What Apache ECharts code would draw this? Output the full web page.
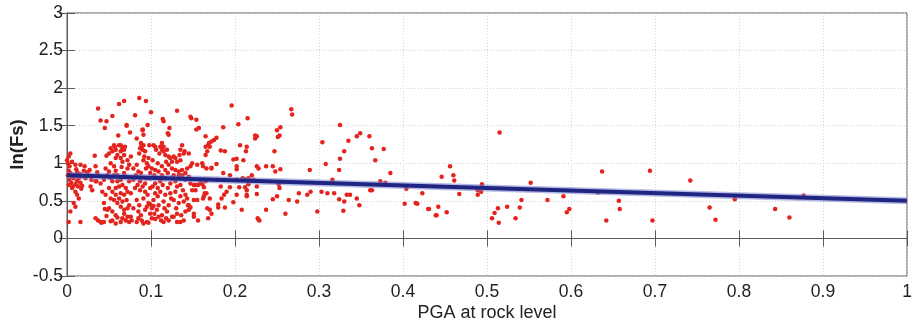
<!DOCTYPE html>
<html>
<head>
<meta charset="utf-8">
<script src="https://cdn.jsdelivr.net/npm/echarts@6/dist/echarts.min.js"></script>
<style>
html,body{margin:0;padding:0;background:#fff;}
#chart{width:913px;height:326px;}
</style>
</head>
<body>
<div id="chart"></div>
<script>
// Axis ticks
const xTicks = [0, 0.1, 0.2, 0.3, 0.4, 0.5, 0.6, 0.7, 0.8, 0.9, 1];
const yTicks = [-0.5, 0, 0.5, 1, 1.5, 2, 2.5, 3];
const xAxisTitle = 'PGA at rock level';
const yAxisTitle = 'ln(Fs)';

// Fitted regression line endpoints [PGA, ln(Fs)]
const fitLine = [[0, 0.84], [1, 0.50]];

// Observed points [PGA, ln(Fs)]
const pointsLowPGA = [
[0.068,1.83],[0.062,1.79],[0.037,1.73],[0.054,1.63],[0.040,1.57],[0.047,1.56],[0.045,1.47],[0.075,1.41],[0.061,1.37],[0.071,1.51],
[0.004,1.13],[0.002,1.09],[0.000,1.04],[0.001,1.00],[0.003,0.96],[0.006,1.02],[0.002,0.90],[0.004,0.87],[0.001,0.84],[0.006,0.82],
[0.003,0.78],[0.008,0.80],[0.005,0.74],[0.002,0.71],[0.007,0.69],[0.010,0.72],[0.012,0.76],[0.009,0.84],[0.012,0.88],[0.014,0.80],
[0.016,0.74],[0.018,0.70],[0.015,0.86],[0.019,0.83],[0.011,0.92],[0.006,0.67],[0.010,0.62],[0.012,0.58],[0.014,0.53],[0.008,0.47],
[0.010,0.42],[0.004,0.36],[0.002,0.22],[0.016,0.22],[0.010,0.98],[0.016,0.98],[0.021,0.96],[0.013,0.69],[0.017,0.66],[0.020,0.90],
[0.024,0.88],[0.027,0.91],[0.026,0.84],[0.022,0.80],[0.029,0.78],[0.034,0.76],[0.040,0.73],[0.030,0.64],[0.042,0.62],[0.033,1.10],
[0.047,1.10],[0.034,0.96],[0.036,0.88],[0.038,0.83],[0.028,0.69],[0.035,0.76],[0.044,0.47],[0.045,0.39],
[0.052,1.20],[0.057,1.22],[0.062,1.24],[0.066,1.20],[0.069,1.22],[0.064,1.16],[0.068,1.11],[0.060,1.11],[0.054,1.16],[0.058,1.07],
[0.064,1.07],[0.076,1.09],[0.074,0.98],[0.052,1.00],[0.056,0.96],[0.046,0.93],[0.050,0.89],[0.058,0.90],[0.060,0.84],[0.068,0.87],
[0.072,0.93],[0.065,0.95],[0.052,0.80],[0.054,0.76],[0.060,0.76],[0.064,0.78],[0.070,0.82],[0.074,0.76],[0.048,0.84],[0.044,0.78],
[0.054,0.62],[0.058,0.58],[0.062,0.53],[0.056,0.51],[0.060,0.47],[0.066,0.49],[0.068,0.58],[0.072,0.62],[0.076,0.60],[0.062,0.69],
[0.050,0.40],[0.054,0.36],[0.048,0.38],[0.064,0.42],[0.068,0.38],[0.072,0.40],[0.074,0.44],[0.068,0.33],[0.072,0.29],[0.071,0.51],
[0.034,0.27],[0.037,0.24],[0.040,0.22],[0.044,0.22],[0.054,0.24],[0.058,0.20],[0.064,0.22],[0.070,0.24],[0.074,0.22],[0.076,0.29],
[0.060,0.28],[0.047,0.30],[0.052,0.23],[0.041,0.21],
[0.050,1.13],[0.058,1.18],[0.072,1.04],[0.066,1.02],[0.056,0.84],[0.066,0.71],[0.058,0.67],[0.050,0.67],[0.046,0.58],[0.052,0.53],
[0.070,0.67],[0.064,0.60],[0.058,0.31],[0.066,0.27],[0.071,1.50],[0.056,1.24],[0.064,1.24],[0.068,1.18]
];

const pointsMidPGA = [
[0.086,1.87],[0.094,1.83],[0.081,1.64],[0.100,1.68],[0.131,1.70],[0.114,1.59],[0.115,1.56],[0.147,1.62],[0.148,1.60],[0.154,1.58],
[0.090,1.44],[0.122,1.47],[0.120,1.40],[0.083,1.33],[0.096,1.51],[0.088,1.27],
[0.091,1.24],[0.089,1.22],[0.087,1.20],[0.090,1.18],[0.093,1.16],[0.086,1.13],[0.092,1.09],[0.098,1.24],
[0.105,1.22],[0.106,1.18],[0.113,1.27],[0.115,1.22],[0.115,1.16],[0.117,1.11],[0.119,1.18],[0.121,1.09],[0.123,1.07],[0.125,1.02],
[0.127,1.09],[0.129,1.07],[0.131,1.02],[0.134,1.11],[0.139,1.13],[0.149,1.00],[0.155,0.98],[0.110,1.13],[0.102,1.04],[0.097,1.07],
[0.140,1.16],[0.135,1.04],
[0.091,1.04],[0.095,1.00],[0.097,0.96],[0.101,0.93],[0.105,0.91],[0.109,0.89],[0.113,0.96],[0.117,0.91],[0.121,0.98],[0.125,0.93],
[0.129,0.91],[0.133,0.89],[0.137,0.91],[0.079,0.93],[0.083,0.98],[0.085,0.89],[0.143,0.93],[0.147,0.96],[0.137,0.84],[0.133,0.84],
[0.079,0.78],[0.087,0.76],[0.093,0.73],[0.099,0.80],[0.105,0.73],[0.111,0.76],[0.117,0.80],[0.123,0.73],[0.129,0.76],[0.135,0.71],
[0.141,0.78],[0.147,0.73],[0.151,0.71],[0.153,0.64],
[0.081,0.67],[0.087,0.64],[0.093,0.62],[0.099,0.67],[0.105,0.60],[0.111,0.62],[0.117,0.58],[0.123,0.60],[0.129,0.62],[0.135,0.56],
[0.141,0.58],[0.149,0.64],
[0.083,0.51],[0.091,0.53],[0.097,0.47],[0.103,0.51],[0.109,0.44],[0.115,0.49],[0.121,0.44],[0.127,0.51],[0.133,0.47],[0.139,0.49],
[0.145,0.44],[0.151,0.51],[0.095,0.42],[0.099,0.45],[0.101,0.40],[0.103,0.43],
[0.079,0.40],[0.085,0.36],[0.093,0.38],[0.099,0.33],[0.107,0.38],[0.113,0.31],[0.119,0.36],[0.125,0.29],[0.131,0.33],[0.141,0.36],
[0.147,0.41],[0.151,0.33],[0.144,0.44],[0.145,0.38],
[0.077,0.24],[0.083,0.22],[0.089,0.24],[0.095,0.22],[0.101,0.27],[0.109,0.29],[0.115,0.22],[0.121,0.24],[0.127,0.29],[0.135,0.22],
[0.139,0.24],[0.091,0.20],[0.097,0.21],[0.105,0.26],[0.151,0.29],
[0.090,1.45],[0.091,1.38],[0.121,1.38],[0.157,1.47],
[0.089,1.24],[0.103,1.24],[0.111,1.22],[0.113,1.18],[0.135,1.18],[0.137,1.24],[0.145,1.13],[0.118,1.02],[0.108,1.00],[0.094,0.93],
[0.088,0.87],[0.099,0.87],[0.104,0.84],[0.120,0.87],[0.127,0.84],[0.141,0.87],[0.145,0.82],[0.082,0.84],[0.113,0.84],[0.095,0.80],
[0.125,0.80],[0.084,0.71],[0.090,0.69],[0.102,0.69],[0.108,0.67],[0.114,0.71],[0.120,0.67],[0.131,0.69],[0.138,0.64],[0.096,0.58],
[0.108,0.56],[0.124,0.53],[0.143,0.53],[0.086,0.44],[0.116,0.40],[0.130,0.40],[0.136,0.31],[0.088,0.31],[0.104,0.33],[0.118,0.27],
[0.131,0.22],[0.112,0.24],[0.085,0.27]
];

const pointsUpperPGA = [
[0.154,1.45],[0.165,1.36],[0.178,1.34],[0.175,1.31],[0.172,1.29],[0.169,1.27],[0.186,1.48],[0.165,1.22],[0.167,1.16],[0.183,1.17],
[0.188,1.16],[0.196,1.77],[0.215,1.60],[0.204,1.52],[0.206,1.24],[0.213,1.16],[0.210,1.04],[0.198,1.05],[0.224,1.33],[0.226,1.36],
[0.214,1.22],[0.202,0.92],[0.226,0.96],[0.222,0.78],[0.226,0.69],[0.202,0.78],[0.194,0.68],[0.214,0.64],[0.198,0.48],[0.202,0.58],
[0.208,0.38],[0.228,0.25],[0.188,0.41],[0.180,0.41],[0.167,0.40],[0.163,0.56],[0.166,0.60],[0.163,0.68],[0.168,0.27],
[0.155,0.51],[0.153,0.71],[0.159,0.74],[0.166,0.93],[0.172,0.93],[0.178,0.78],[0.183,0.69],[0.188,0.78],[0.161,1.00],
[0.170,1.22],[0.168,1.24],[0.165,1.11],[0.202,1.06],[0.202,0.96],[0.162,0.96],[0.172,0.94],[0.178,0.99],[0.186,0.87],[0.194,0.84],
[0.209,0.80],[0.216,0.80],[0.228,0.93],[0.237,0.96],[0.156,0.71],[0.161,0.72],[0.165,0.76],[0.164,0.60],[0.162,0.53],[0.170,0.53],
[0.187,0.58],[0.184,0.53],[0.214,0.58],[0.226,0.59],[0.227,0.27],[0.229,0.24],[0.156,0.24],[0.237,0.38],[0.190,0.62],[0.205,0.68],
[0.170,0.38],[0.172,0.33],[0.180,0.45]
];

const pointsHighPGA = [
[0.267,1.72],[0.268,1.65],[0.224,1.37],[0.250,1.44],[0.254,1.48],[0.253,1.37],[0.251,1.35],[0.247,1.16],[0.245,0.96],[0.248,0.89],
[0.254,0.92],[0.220,0.84],[0.211,0.79],[0.216,0.72],[0.212,0.68],[0.214,0.56],[0.245,0.52],[0.250,0.56],[0.252,0.72],[0.253,0.67],
[0.264,0.51],[0.274,0.49],[0.276,0.60],[0.260,0.33],[0.289,0.91],[0.286,0.58],[0.290,0.62],[0.298,0.36],[0.303,0.62],[0.308,0.99],
[0.304,1.28],[0.324,0.91],[0.325,1.51],[0.330,1.16],[0.335,1.30],[0.325,1.06],[0.316,0.78],[0.310,0.60],[0.318,0.60],[0.324,0.52],
[0.330,0.49],[0.329,0.37],[0.333,0.58],[0.337,0.58],[0.345,1.36],[0.349,1.40],[0.345,0.53],[0.348,0.44],[0.360,1.36],[0.363,1.20],
[0.367,1.04],[0.377,1.19],[0.361,0.64],[0.363,0.64],[0.373,0.76],[0.379,0.74],[0.385,0.87],[0.402,0.46],[0.404,0.66],[0.415,0.47],
[0.417,0.46],[0.423,0.60],[0.431,0.39],[0.440,0.31],[0.442,0.42],
[0.515,1.41],[0.456,0.96],[0.446,0.82],[0.460,0.84],[0.461,0.77],[0.467,0.59],[0.430,0.39],[0.439,0.31],[0.452,0.35],
[0.494,0.72],[0.493,0.62],[0.489,0.64],[0.489,0.58],[0.506,0.27],[0.509,0.34],[0.513,0.40],[0.514,0.21],[0.524,0.42],
[0.534,0.27],[0.539,0.41],[0.541,0.51],[0.552,0.74],[0.572,0.51],[0.591,0.56],[0.595,0.35],[0.598,0.39],[0.632,0.61],[0.637,0.89],
[0.642,0.24],[0.657,0.50],[0.658,0.39],[0.694,0.90],[0.697,0.24],[0.742,0.77],[0.765,0.41],[0.772,0.25],[0.795,0.52],[0.843,0.39],
[0.860,0.28],[0.877,0.57]
];

const allPoints = pointsLowPGA.concat(pointsMidPGA, pointsUpperPGA, pointsHighPGA);

const FONT = '"Liberation Sans", Arial, sans-serif';
const chart = echarts.init(document.getElementById('chart'), null, {renderer: 'canvas'});

const axisColor = '#5a5a5a';
const tickLen = 8;
chart.setOption({
  animation: false,
  backgroundColor: '#fff',
  grid: {left: 67, right: 6, top: 13, bottom: 50, show: true, borderColor: axisColor, borderWidth: 1,
         containLabel: false, outerBoundsMode: 'none'},
  xAxis: [{
    type: 'value', min: xTicks[0], max: xTicks[xTicks.length - 1], interval: 0.1,
    position: 'bottom',
    name: xAxisTitle, nameLocation: 'middle', nameGap: 28, nameMoveOverlap: false,
    nameTextStyle: {fontFamily: FONT, fontSize: 18, color: '#222'},
    axisLine: {show: true, lineStyle: {color: axisColor, width: 1}},
    axisTick: {show: true, inside: true, length: tickLen, lineStyle: {color: axisColor}},
    axisLabel: {fontFamily: FONT, fontSize: 17.5, color: '#222', margin: 7},
    splitLine: {show: true, lineStyle: {color: '#d4d4d4', type: [1, 2], width: 1}}
  }, {
    type: 'value', min: xTicks[0], max: xTicks[xTicks.length - 1], interval: 0.1,
    position: 'top',
    axisLine: {show: true, lineStyle: {color: axisColor, width: 1}},
    axisTick: {show: true, inside: true, length: tickLen, lineStyle: {color: axisColor}},
    axisLabel: {show: false}, splitLine: {show: false}
  }],
  yAxis: [{
    type: 'value', min: yTicks[0], max: yTicks[yTicks.length - 1], interval: 0.5,
    position: 'left',
    name: yAxisTitle, nameLocation: 'middle', nameGap: 40, nameRotate: 90, nameMoveOverlap: false,
    nameTextStyle: {fontFamily: FONT, fontSize: 18.5, color: '#222', fontWeight: 'bold'},
    axisLine: {show: true, lineStyle: {color: axisColor, width: 1}},
    axisTick: {show: true, inside: true, length: tickLen, lineStyle: {color: axisColor}},
    axisLabel: {fontFamily: FONT, fontSize: 17.5, color: '#222', margin: 4},
    splitLine: {show: true, lineStyle: {color: '#d4d4d4', type: [1, 2], width: 1}}
  }, {
    type: 'value', min: yTicks[0], max: yTicks[yTicks.length - 1], interval: 0.5,
    position: 'right',
    axisLine: {show: true, lineStyle: {color: axisColor, width: 1}},
    axisTick: {show: true, inside: true, length: tickLen, lineStyle: {color: axisColor}},
    axisLabel: {show: false}, splitLine: {show: false}
  }],
  series: [{
    type: 'scatter', xAxisIndex: 0, yAxisIndex: 0,
    data: allPoints, symbol: 'circle', symbolSize: 4.5,
    itemStyle: {color: '#e5231d', opacity: 1},
    z: 2
  }, {
    type: 'line', xAxisIndex: 0, yAxisIndex: 0,
    data: fitLine, symbol: 'none',
    lineStyle: {color: 'rgba(120,130,210,0.55)', width: 7},
    z: 3
  }, {
    type: 'line', xAxisIndex: 0, yAxisIndex: 0,
    data: fitLine, symbol: 'none',
    lineStyle: {color: '#1f2580', width: 4},
    z: 4
  }]
});
</script>
</body>
</html>
